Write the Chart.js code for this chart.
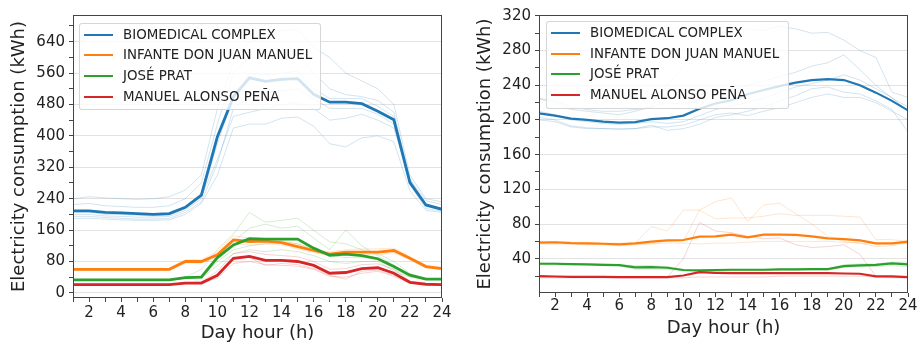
<!DOCTYPE html>
<html>
<head>
<meta charset="utf-8">
<title>Hourly electricity consumption</title>
<script src="https://cdn.jsdelivr.net/npm/chart.js@4.4.1/dist/chart.umd.min.js"></script>
<style>
    body { margin: 0; background: #fff; }
    #wrap { position: relative; width: 921px; height: 346px; overflow: hidden; }
    canvas { position: absolute; top: 0; }
    #chartLeft { left: 0; }
    #chartRight { left: 460px; }
    .legend {
        position: absolute;
        border: 1px solid rgba(204, 204, 204, 0.8);
        border-radius: 3px;
        background: rgba(255, 255, 255, 0.8);
        font-family: "DejaVu Sans", sans-serif;
        font-size: 13.4px;
        color: #222;
    }
    .legend .swatch { position: absolute; width: 29px; height: 2px; }
    .legend .label { position: absolute; line-height: 16px; white-space: nowrap; }
</style>
</head>
<body>
<div id="wrap">
    <canvas id="chartLeft" width="460" height="346"></canvas>
    <canvas id="chartRight" width="461" height="346"></canvas>
    <div id="legendLeft" class="legend" style="left:79px; top:23px; width:240px; height:85px;"></div>
    <div id="legendRight" class="legend" style="left:546px; top:21px; width:241px; height:86px;"></div>
</div>
<script>
// ---- data ----
var hours = [1, 2, 3, 4, 5, 6, 7, 8, 9, 10, 11, 12, 13, 14, 15, 16, 17, 18, 19, 20, 21, 22, 23, 24];
var xTickLabels = [2, 4, 6, 8, 10, 12, 14, 16, 18, 20, 22, 24];
var leftYTicks = [0, 80, 160, 240, 320, 400, 480, 560, 640];
var rightYTicks = [40, 80, 120, 160, 200, 240, 280, 320];
var seriesNames = ['BIOMEDICAL COMPLEX', 'INFANTE DON JUAN MANUEL', 'JOSÉ PRAT', 'MANUEL ALONSO PEÑA'];
var seriesColors = ['#1f77b4', '#ff7f0e', '#2ca02c', '#d62728'];

// left panel, mean profiles (kWh)
var biomedLeft = [209, 209, 205, 204, 202, 200, 202, 218, 249, 398, 500, 548, 539, 544, 546, 506, 486, 486, 482, 463, 441, 281, 224, 213];
var infanteLeft = [60, 60, 60, 60, 60, 60, 60, 80, 80, 97, 135, 131, 132, 128, 118, 108, 99, 104, 104, 104, 108, 88, 67, 62];
var pratLeft = [33, 33, 33, 33, 33, 33, 33, 39, 40, 90, 122, 138, 137, 137, 137, 114, 96, 99, 95, 87, 67, 45, 35, 35];
var alonsoLeft = [21, 21, 21, 21, 21, 21, 21, 25, 25, 45, 88, 93, 83, 83, 80, 70, 50, 52, 62, 64, 50, 27, 22, 21];

// left panel, individual days (faint lines)
var biomedDaysLeft = [
    [240, 245, 242, 240, 238, 240, 245, 262, 300, 470, 590, 640, 650, 668, 672, 625, 600, 560, 540, 520, 480, 300, 240, 232],
    [225, 228, 222, 220, 218, 218, 222, 240, 280, 430, 560, 600, 600, 610, 605, 560, 520, 505, 500, 490, 460, 290, 235, 225],
    [200, 200, 196, 195, 193, 193, 195, 210, 240, 380, 500, 560, 555, 560, 565, 520, 495, 495, 495, 475, 450, 280, 220, 212],
    [195, 195, 192, 190, 188, 188, 190, 205, 232, 330, 470, 500, 510, 515, 520, 495, 470, 470, 470, 455, 430, 275, 215, 208],
    [190, 190, 188, 186, 185, 185, 186, 200, 228, 300, 420, 430, 430, 445, 448, 425, 380, 372, 395, 400, 385, 260, 210, 205],
    [205, 206, 200, 200, 198, 196, 198, 215, 245, 340, 450, 460, 470, 480, 485, 470, 440, 445, 455, 440, 420, 290, 225, 215]
];
var infanteDaysLeft = [
    [62, 62, 62, 62, 62, 62, 62, 84, 84, 105, 145, 140, 138, 133, 125, 112, 104, 110, 112, 112, 114, 92, 70, 65],
    [57, 57, 57, 57, 57, 57, 57, 76, 76, 90, 125, 122, 125, 122, 112, 103, 94, 98, 98, 97, 102, 84, 64, 60]
];
var pratDaysLeft = [
    [33, 33, 33, 33, 33, 33, 33, 40, 60, 110, 150, 205, 180, 185, 190, 160, 130, 125, 110, 100, 80, 50, 36, 35],
    [33, 33, 33, 33, 33, 33, 33, 38, 45, 95, 130, 165, 175, 165, 170, 140, 110, 160, 120, 95, 70, 45, 35, 35],
    [33, 33, 33, 33, 33, 33, 33, 38, 40, 80, 110, 120, 125, 130, 125, 110, 95, 90, 90, 85, 60, 42, 35, 35],
    [33, 33, 33, 33, 33, 33, 33, 37, 38, 70, 100, 110, 105, 110, 105, 95, 80, 75, 80, 80, 55, 40, 34, 34]
];
var alonsoDaysLeft = [
    [22, 22, 22, 22, 22, 22, 22, 26, 28, 55, 100, 105, 98, 95, 92, 80, 60, 62, 72, 74, 60, 30, 23, 22],
    [20, 20, 20, 20, 20, 20, 20, 24, 24, 38, 75, 80, 72, 70, 68, 60, 42, 40, 50, 55, 42, 25, 21, 20],
    [21, 21, 21, 21, 21, 21, 21, 25, 26, 45, 85, 90, 70, 75, 72, 62, 45, 35, 55, 58, 45, 26, 22, 21]
];

// right panel, mean profiles (kWh)
var biomedRight = [207.6, 205, 201.5, 200, 198, 197, 197.6, 201, 202, 205, 213, 219, 222.7, 229.6, 234.6, 239, 243, 246, 247, 246, 240, 231.5, 222, 211];
var infanteRight = [58.5, 59, 58, 57.7, 57.3, 56.6, 57.7, 59.7, 61.2, 61.6, 65.4, 65.8, 67.7, 64.7, 67.7, 67.7, 67.4, 65.8, 63.5, 62.7, 61.2, 57.7, 57.7, 59.7];
var pratRight = [34.2, 34.2, 33.8, 33.4, 33, 32.7, 30, 30.4, 29.6, 27, 26.5, 27, 27.3, 27.3, 27.3, 27.7, 27.7, 28, 28, 31.5, 32.3, 33, 34.6, 33.4];
var alonsoRight = [20, 19.5, 19.2, 19, 19, 18.9, 18.9, 18.9, 18.8, 20.7, 24.6, 23.8, 23.4, 23.4, 23.4, 23.4, 23.4, 23.4, 23.4, 23, 22.7, 19.6, 19.6, 18.8];

// right panel, individual days (faint lines)
var biomedDaysRight = [
    [225, 222, 215, 212, 210, 210, 212, 215, 240, 262, 282, 298, 304, 305, 303, 308, 305, 300, 301, 292, 280, 272, 232, 226],
    [224, 220, 212, 210, 208, 206, 210, 215, 220, 218, 222, 228, 235, 240, 245, 250, 255, 262, 266, 275, 258, 240, 225, 215],
    [200, 198, 192, 190, 190, 189, 190, 194, 188, 190, 195, 203, 206, 210, 215, 222, 228, 236, 238, 232, 230, 222, 212, 186],
    [210, 206, 200, 198, 196, 195, 196, 198, 196, 198, 205, 212, 216, 220, 225, 232, 238, 242, 246, 252, 246, 236, 226, 210],
    [203, 200, 193, 191, 190, 190, 190, 192, 192, 194, 200, 206, 208, 205, 210, 214, 220, 226, 230, 226, 226, 220, 210, 200]
];
var infanteDaysRight = [
    [60, 60, 59, 59, 58, 58, 58, 77, 72, 96, 96, 106, 110, 83, 102, 104, 92, 80, 66, 60, 58, 54, 55, 58],
    [58, 58, 58, 57, 57, 57, 57, 58, 60, 60, 96, 86, 87, 87, 89, 92, 90, 90, 90, 89, 88, 62, 62, 60],
    [57, 57, 57, 56, 56, 55, 56, 57, 58, 58, 57, 58, 58, 59, 60, 60, 60, 60, 60, 59, 58, 57, 57, 58]
];
var pratDaysRight = [
    [35, 35, 34, 34, 34, 33, 32, 32, 31, 27, 26, 27, 27, 27, 27, 28, 28, 28, 28, 33, 34, 34, 36, 36],
    [33, 33, 33, 33, 32, 32, 28, 28, 28, 26, 26, 26, 26, 26, 26, 27, 27, 27, 27, 30, 31, 31, 32, 31]
];
var alonsoDaysRight = [
    [19, 19, 19, 19, 19, 19, 19, 19, 19, 40, 82, 72, 70, 66, 63, 64, 56, 53, 54, 56, 45, 20, 19, 19],
    [18, 18, 18, 18, 18, 18, 18, 18, 18, 18, 19, 19, 19, 19, 19, 20, 20, 20, 20, 20, 20, 19, 18, 18]
];

// ---- helpers ----
var FONT = '"DejaVu Sans", sans-serif';
var INK = '#222';
var SPINE = '#444';

function toPoints(values) {
    return hours.map(function(h, i) { return { x: h, y: values[i] }; });
}

function fade(hex, alpha) {
    var r = parseInt(hex.substr(1, 2), 16);
    var g = parseInt(hex.substr(3, 2), 16);
    var b = parseInt(hex.substr(5, 2), 16);
    return 'rgba(' + r + ',' + g + ',' + b + ',' + alpha + ')';
}

function buildDatasets(means, days, meanWidth) {
    var sets = [];
    for (var s = 0; s < means.length; s++) {
        for (var d = 0; d < days[s].length; d++) {
            sets.push({
                data: toPoints(days[s][d]),
                borderColor: fade(seriesColors[s], 0.2),
                borderWidth: 1,
                pointRadius: 0,
                tension: 0,
                order: 10
            });
        }
        sets.push({
            label: seriesNames[s],
            data: toPoints(means[s]),
            borderColor: seriesColors[s],
            borderWidth: meanWidth,
            pointRadius: 0,
            tension: 0,
            order: means.length - s
        });
    }
    return sets;
}

// major ticks plus one minor tick between each pair
function withMinorTicks(majors, min, max) {
    var half = (majors[1] - majors[0]) / 2;
    var out = [];
    for (var v = majors[0] - half; v <= max; v += half) {
        if (v >= min) out.push(v);
    }
    return out;
}

var framePlugin = {
    id: 'frame',
    afterDraw: function(chart) {
        var a = chart.chartArea;
        var ctx = chart.ctx;
        ctx.save();
        ctx.strokeStyle = SPINE;
        ctx.lineWidth = 1;
        ctx.strokeRect(Math.round(a.left) + 0.5, Math.round(a.top) + 0.5,
            Math.round(a.right - a.left) - 1, Math.round(a.bottom - a.top) - 1);
        ctx.restore();
    }
};

function makeChart(canvasId, cfg) {
    var canvas = document.getElementById(canvasId);
    if (!canvas) return;
    var allY = withMinorTicks(cfg.yMajors, cfg.yMin, cfg.yMax);

    new Chart(canvas.getContext('2d'), {
        type: 'line',
        data: { datasets: buildDatasets(cfg.means, cfg.days, cfg.meanWidth) },
        options: {
            responsive: false,
            animation: false,
            events: [],
            layout: { padding: { top: 15, right: cfg.padRight, left: 0, bottom: 0 } },
            plugins: { legend: { display: false }, tooltip: { enabled: false } },
            scales: {
                x: {
                    type: 'linear',
                    min: 1,
                    max: 24,
                    afterBuildTicks: function(axis) {
                        axis.ticks = hours.map(function(h) { return { value: h }; });
                    },
                    afterFit: function(scale) { scale.height = cfg.xHeight; },
                    ticks: {
                        autoSkip: false,
                        maxRotation: 0,
                        padding: cfg.xTickPad,
                        color: INK,
                        font: { family: FONT, size: 15 },
                        callback: function(v) { return xTickLabels.indexOf(v) >= 0 ? String(v) : ''; }
                    },
                    grid: { drawOnChartArea: false, tickColor: SPINE, tickLength: 4 },
                    border: { display: false },
                    title: {
                        display: true,
                        text: 'Day hour (h)',
                        color: INK,
                        font: { family: FONT, size: 18 },
                        padding: { top: 0, bottom: cfg.xTitlePad }
                    }
                },
                y: {
                    min: cfg.yMin,
                    max: cfg.yMax,
                    afterBuildTicks: function(axis) {
                        axis.ticks = allY.map(function(v) { return { value: v }; });
                    },
                    afterFit: function(scale) { scale.width = cfg.yWidth; },
                    ticks: {
                        autoSkip: false,
                        padding: 4,
                        color: INK,
                        font: { family: FONT, size: 15 },
                        callback: function(v) { return cfg.yMajors.indexOf(v) >= 0 ? String(v) : ''; }
                    },
                    grid: {
                        color: function(c) {
                            return c.tick && cfg.yMajors.indexOf(c.tick.value) >= 0 ? '#e2e2e2' : 'rgba(0,0,0,0)';
                        },
                        tickColor: SPINE,
                        tickLength: 4
                    },
                    border: { display: false },
                    title: {
                        display: true,
                        text: 'Electricity consumption (kWh)',
                        color: INK,
                        font: { family: FONT, size: 18 },
                        padding: { top: cfg.yTitlePad, bottom: 0 }
                    }
                }
            }
        },
        plugins: [framePlugin]
    });
}

function makeLegend(boxId, rowTops, swatchLeft, textLeft) {
    var box = document.getElementById(boxId);
    for (var i = 0; i < seriesNames.length; i++) {
        var sw = document.createElement('div');
        sw.className = 'swatch';
        sw.style.left = swatchLeft + 'px';
        sw.style.top = Math.round(rowTops[i] - 1) + 'px';
        sw.style.background = seriesColors[i];
        box.appendChild(sw);

        var txt = document.createElement('div');
        txt.className = 'label';
        txt.style.left = textLeft + 'px';
        txt.style.top = (rowTops[i] - 8) + 'px';
        txt.textContent = seriesNames[i];
        box.appendChild(txt);
    }
}

function init() {
    makeChart('chartLeft', {
        means: [biomedLeft, infanteLeft, pratLeft, alonsoLeft],
        days: [biomedDaysLeft, infanteDaysLeft, pratDaysLeft, alonsoDaysLeft],
        meanWidth: 2.8,
        yMajors: leftYTicks,
        yMin: -13,
        yMax: 708,
        yWidth: 73,
        xHeight: 48,
        padRight: 18,
        xTickPad: 2,
        xTitlePad: 2,
        yTitlePad: 9
    });
    makeChart('chartRight', {
        means: [biomedRight, infanteRight, pratRight, alonsoRight],
        days: [biomedDaysRight, infanteDaysRight, pratDaysRight, alonsoDaysRight],
        meanWidth: 2.2,
        yMajors: rightYTicks,
        yMin: 0.5,
        yMax: 321,
        yWidth: 79,
        xHeight: 53,
        padRight: 13,
        xTickPad: 0,
        xTitlePad: 7,
        yTitlePad: 15
    });
    makeLegend('legendLeft', [10.5, 31.3, 52.1, 72.9], 4, 43);
    makeLegend('legendRight', [11, 31.5, 52, 72.5], 4, 43);
}

if (document.readyState === 'loading') {
    document.addEventListener('DOMContentLoaded', init);
} else {
    init();
}
</script>
</body>
</html>
